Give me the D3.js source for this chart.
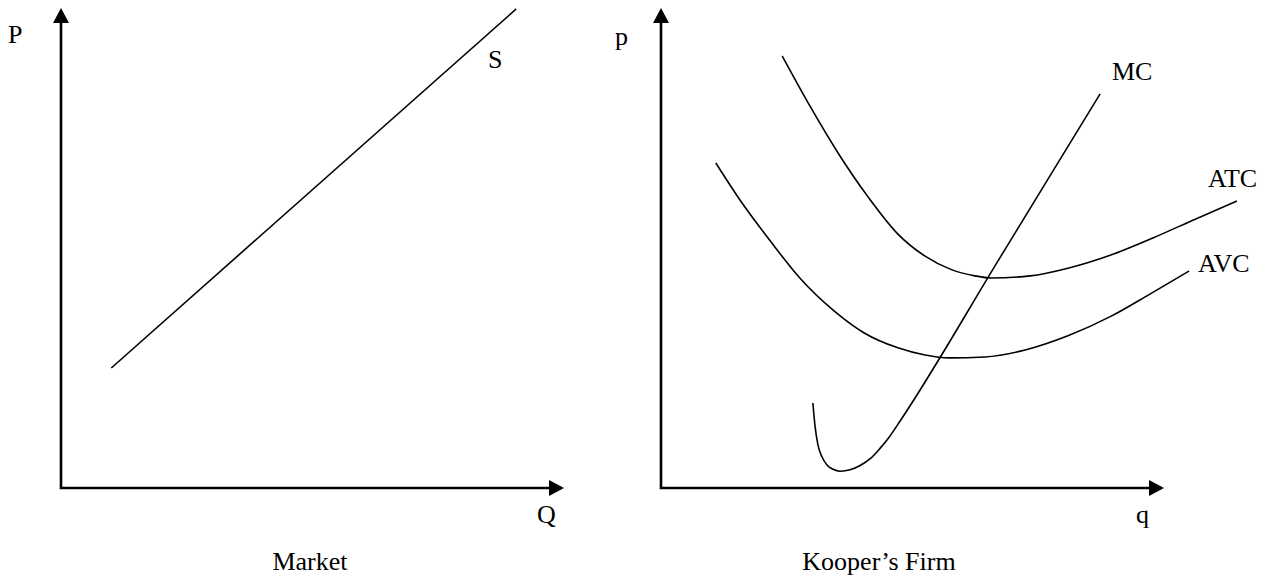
<!DOCTYPE html>
<html>
<head>
<meta charset="utf-8">
<script src="https://cdn.jsdelivr.net/npm/d3@7"></script>
<style>
  body { margin: 0; background: #fff; }
  text { font-family: "Liberation Serif", "Times New Roman", serif; font-size: 26px; fill: #000; }
</style>
</head>
<body>
<script>
//------------------ Data (axis units, 0-10 on both axes) ------------------

var supplyQ = [1.0, 9.05],
    supplyP = [2.5, 9.98];

var atcQ = [2.41, 2.96, 3.52, 4.12, 4.71, 5.25, 5.75, 6.24, 6.56, 7.34, 8.09, 8.93, 9.78, 10.62, 11.45],
    atcP = [9.00, 7.96, 6.98, 6.06, 5.29, 4.83, 4.56, 4.42, 4.375, 4.42, 4.58, 4.85, 5.21, 5.60, 5.98];

var avcQ = [1.09, 1.57, 2.17, 2.76, 3.44, 4.04, 4.71, 5.25, 5.73, 6.44, 7.24, 8.09, 8.95, 9.72, 10.50],
    avcP = [6.77, 6.00, 5.15, 4.375, 3.69, 3.23, 2.92, 2.77, 2.71, 2.73, 2.875, 3.17, 3.58, 4.04, 4.52];

var mcQ = [3.02, 3.06, 3.12, 3.20, 3.30, 3.42, 3.56, 3.76, 3.96, 4.16, 4.35, 4.55, 4.75, 6.74, 8.73],
    mcP = [1.77, 1.31, 0.90, 0.65, 0.48, 0.39, 0.35, 0.38, 0.47, 0.61, 0.82, 1.08, 1.39, 4.80, 8.21];

var zip = function(xs, ys) { return xs.map(function(x, i) { return [x, ys[i]]; }); };

//------------------ SVG ------------------

var width = 1267, height = 580;

var svg = d3.select("body")
    .append("svg")
    .attr("width", width)
    .attr("height", height);

// each panel: origin at the axis corner, arrow tips at domain max
function panel(x0, x1, y0, y1) {
    return {
        x: d3.scaleLinear().domain([0, 10]).range([x0, x1]),
        y: d3.scaleLinear().domain([0, 10]).range([y0, y1])
    };
}

var left  = panel(61, 564, 488, 8),
    right = panel(661, 1164, 488, 8);

var arrowLen = 15, arrowHalf = 8;

function drawAxes(g, p) {
    var ox = p.x(0), oy = p.y(0), tx = p.x(10), ty = p.y(10);
    g.append("path")
        .attr("d", "M" + ox + "," + (ty + arrowLen - 1) + "V" + oy + "H" + (tx - arrowLen + 1))
        .attr("fill", "none")
        .attr("stroke", "#000")
        .attr("stroke-width", 2.6);
    // arrow heads
    g.append("path")
        .attr("d", "M" + ox + "," + ty + "L" + (ox - arrowHalf) + "," + (ty + arrowLen) + "L" + (ox + arrowHalf) + "," + (ty + arrowLen) + "Z")
        .attr("fill", "#000");
    g.append("path")
        .attr("d", "M" + tx + "," + oy + "L" + (tx - arrowLen) + "," + (oy - arrowHalf) + "L" + (tx - arrowLen) + "," + (oy + arrowHalf) + "Z")
        .attr("fill", "#000");
}

function drawCurve(g, p, pts, curve) {
    var line = d3.line()
        .x(function(d) { return p.x(d[0]); })
        .y(function(d) { return p.y(d[1]); })
        .curve(curve);
    g.append("path")
        .datum(pts)
        .attr("d", line)
        .attr("fill", "none")
        .attr("stroke", "#000")
        .attr("stroke-width", 1.6);
}

function label(g, x, y, txt, anchor) {
    g.append("text")
        .attr("x", x)
        .attr("y", y)
        .attr("text-anchor", anchor || "start")
        .text(txt);
}

//------------------ Market ------------------

var gL = svg.append("g");
drawAxes(gL, left);
drawCurve(gL, left, zip(supplyQ, supplyP), d3.curveLinear);

label(gL, 8, 43, "P");
label(gL, 488, 68, "S");
label(gL, 537, 523, "Q");
label(gL, 310, 570, "Market", "middle");

//------------------ Kooper's Firm ------------------

var gR = svg.append("g");
drawAxes(gR, right);
drawCurve(gR, right, zip(atcQ, atcP), d3.curveMonotoneX);
drawCurve(gR, right, zip(avcQ, avcP), d3.curveMonotoneX);
drawCurve(gR, right, zip(mcQ, mcP), d3.curveMonotoneX);

label(gR, 615, 45, "p");
label(gR, 1112, 80, "MC");
label(gR, 1208, 187, "ATC");
label(gR, 1198, 272, "AVC");
label(gR, 1136, 523, "q");
label(gR, 879, 570, "Kooper\u2019s Firm", "middle");
</script>
</body>
</html>
